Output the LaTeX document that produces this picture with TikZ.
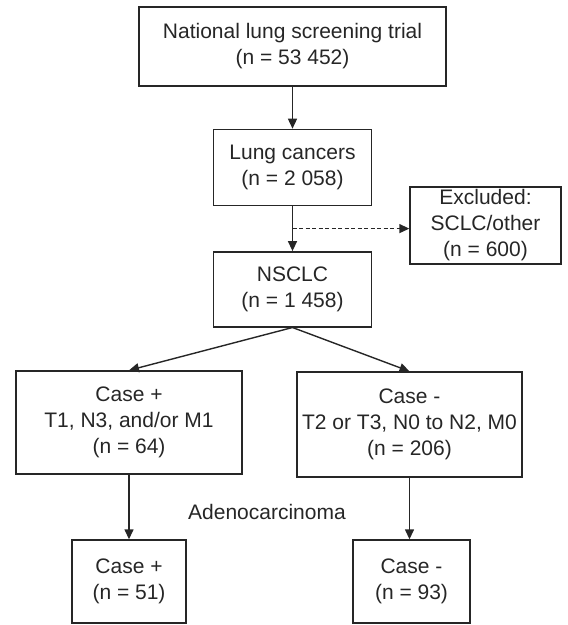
\documentclass[tikz,border=0pt]{standalone}
\usepackage{fontspec}
\setmainfont{Liberation Sans}
\usetikzlibrary{arrows.meta,positioning,calc}

\begin{document}
\begin{tikzpicture}[
  x=1pt, y=-1pt,
  node distance=42pt and 36pt,
  box/.style={draw=black!85, line width=1.4pt, text=black!85, align=center, inner sep=0pt, font=\fontsize{21}{26}\selectfont},
  label/.style={text=black!85, inner sep=0pt, font=\fontsize{21}{26}\selectfont},
  arrow/.style={-{Triangle[length=10pt,width=9pt]}, line width=1.4pt, draw=black!85},
  dasharrow/.style={arrow, dash pattern=on 4pt off 2.5pt}
]
\useasboundingbox (0,0) rectangle (568,625);
\node[box, minimum width=307pt, minimum height=79pt] (trial) at (292.5,46.5) {National lung screening trial\\(n = 53 452)};
\node[box, minimum width=158pt, minimum height=76pt, below=42pt of trial] (lung) {Lung cancers\\(n = 2 058)};
\node[box, minimum width=158pt, minimum height=75pt, below=45pt of lung] (nsclc) {NSCLC\\(n = 1 458)};
\node[box, minimum width=151pt, minimum height=77pt] (excluded) at (485.5,225.5) {Excluded:\\SCLC/other\\(n = 600)};

\node[box, minimum width=226pt, minimum height=103pt] (casepos) at (129,422.5) {Case +\\T1, N3, and/or M1\\(n = 64)};
\node[box, minimum width=225pt, minimum height=105pt] (caseneg) at (409.5,424.5) {Case -\\T2 or T3, N0 to N2, M0\\(n = 206)};

\node[box, minimum width=114pt, minimum height=83pt] (adenopos) at (129,581.5) {Case +\\(n = 51)};
\node[box, minimum width=117pt, minimum height=83pt] (adenoneg) at (411.5,581.5) {Case -\\(n = 93)};
\node[label] (adeno) at (267,512) {Adenocarcinoma};

\coordinate (branch) at ($(lung.south)!0.5!(nsclc.north)$);

\draw[arrow] (trial) -- (lung);
\draw[arrow] (lung) -- (nsclc);
\draw[dasharrow] (branch) -- (branch -| excluded.west);
\draw[arrow] (nsclc.south) -- (casepos.north);
\draw[arrow] (nsclc.south) -- (caseneg.north);
\draw[arrow] (casepos) -- (adenopos);
\draw[arrow] (caseneg.south) -- (caseneg.south |- adenoneg.north);
\end{tikzpicture}
\end{document}
